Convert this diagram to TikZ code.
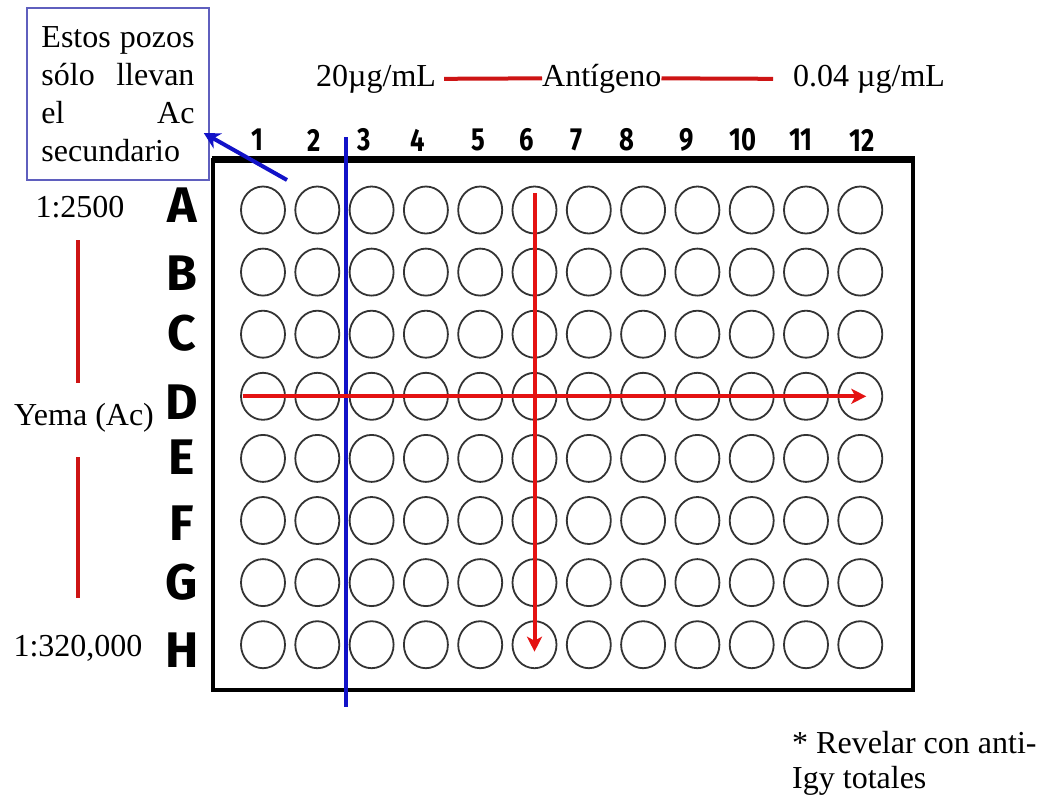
\documentclass[tikz,border=0pt]{standalone}
\usepackage{fontspec}
\usepackage{graphicx}
\setmainfont{Liberation Serif}
\newfontfamily\platefont{Fira Sans}
\usetikzlibrary{arrows.meta,shapes.geometric}
\definecolor{arrred}{RGB}{228,18,18}
\definecolor{linered}{RGB}{205,20,20}
\definecolor{bluel}{RGB}{18,18,200}
\definecolor{boxblue}{RGB}{95,95,190}
\begin{document}
\begin{tikzpicture}[x=1pt,y=-1pt,
  txt/.style={font=\fontsize{32}{38}\selectfont, inner sep=0pt},
  collab/.style={font=\platefont\bfseries\fontsize{32}{32}\selectfont, inner sep=0pt},
  rowlab/.style={font=\platefont\bfseries\fontsize{50}{50}\selectfont, inner sep=0pt},
  well/.style={ellipse, draw=black!80, line width=1.8pt, minimum width=44pt, minimum height=47pt, inner sep=0pt},
  redarrow/.style={draw=arrred, line width=4pt, -{Stealth[length=15pt,width=15pt,inset=4pt]}},
  redline/.style={draw=linered, line width=4pt},
  blueline/.style={draw=bluel, line width=4pt},
]
\useasboundingbox (0,0) rectangle (1042,801);
\fill[white] (0,0) rectangle (1042,801);

% plate
\draw[line width=3.5pt] (213,159.5) rectangle (913,690);
\draw[line width=7pt] (211.5,159.5) -- (914.5,159.5);

% wells
\foreach \r in {1,...,8}
  \foreach \c in {1,...,12}
    \node[well] (w-\r-\c) at ({263+(\c-1)*54.3},{210+(\r-1)*62.1}) {};

% row letters
\foreach \l/\yy in {A/205,B/273,C/333,D/402,E/457,F/523,G/582,H/650}
  \node[rowlab] (row\l) at (182,\yy) {\l};

% column numbers
\foreach \n/\xx in {1/257,2/314,3/364,4/418,5/478,6/527,7/576,8/627,9/687,10/743,11/801,12/862}
  \node[collab] (col\n) at (\xx,140) {\scalebox{0.8}[1]{\n}};

% blue separator line
\coordinate (bt) at (346,137);
\coordinate (bb) at (346,707);
\draw[blueline] (bt) -- (bb);

% note box
\node[draw=boxblue, line width=1.5pt, minimum width=182pt, minimum height=172pt, inner sep=0pt] (box) at (118,94)
  {\parbox{153pt}{\fontsize{32}{38}\selectfont
    \hbox to 153pt{Estos\hfill pozos}
    \hbox to 153pt{sólo\hfill llevan}
    \hbox to 153pt{el\hfill Ac}
    \hbox to 153pt{secundario\hfill}}};
\coordinate (ba) at (287,180);
\draw[blueline, -{Stealth[length=16pt,width=17pt,inset=5pt]}] (ba) -- ([xshift=-6pt,yshift=-39pt]box.east);

% red arrows
\draw[redarrow] ([yshift=17pt]w-1-6.center) -- ([yshift=-7pt]w-8-6.center);
\draw[redarrow] ([xshift=-20pt]w-4-1.center) -- ([xshift=6pt]w-4-12.center);

% top labels
\node[txt, anchor=base west] (conc1) at (316,86) {20µg/mL};
\node[txt, anchor=base west] (antig) at (542,86) {Antígeno};
\node[txt, anchor=base west] (conc2) at (793,86) {0.04 µg/mL};
\draw[redline] ([xshift=8pt]conc1.east) -- (antig.west);
\draw[redline] (antig.east) -- ([xshift=-20pt]conc2.west);

% left labels
\node[txt] (dil1) at (80,207) {1:2500};
\node[txt] (yema) at (84,418) {Yema (Ac)};
\node[txt] (dil2) at (78,648) {1:320,000};
\coordinate (ya) at (78,240);
\coordinate (yb) at (78,383);
\coordinate (yc) at (78,457);
\coordinate (yd) at (78,598);
\draw[redline] (ya) -- (yb);
\draw[redline] (yc) -- (yd);

% bottom note
\node[txt, anchor=north west, align=left, font=\fontsize{32}{35}\selectfont] (note) at (792,731)
  {* Revelar con anti-\\Igy totales};
\end{tikzpicture}
\end{document}
